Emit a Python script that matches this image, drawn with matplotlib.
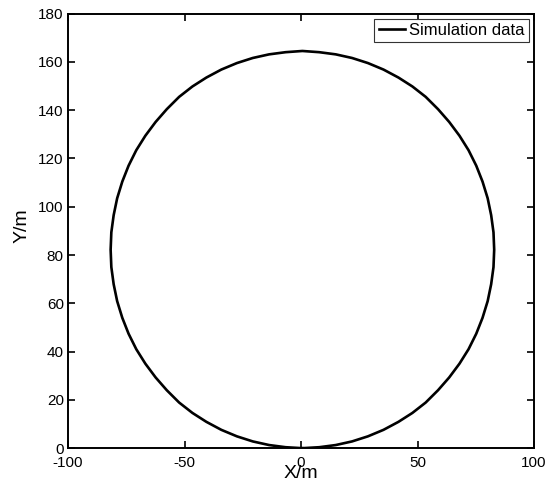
import matplotlib
matplotlib.use("Agg")
import matplotlib.pyplot as plt

# Trajectory points (X/m, Y/m), 5 degree steps round the turn
x_m = [0.6, 7.8, 14.9, 21.9, 28.7, 35.4, 41.8, 47.8, 53.5, 58.8, 63.6, 68.0,
       71.9, 75.2, 77.9, 80.1, 81.6, 82.6, 82.9, 82.6, 81.6, 80.1, 77.9, 75.2,
       71.9, 68.0, 63.6, 58.8, 53.5, 47.8, 41.8, 35.4, 28.7, 21.9, 14.9, 7.8,
       0.6, -6.6, -13.7, -20.7, -27.5, -34.2, -40.6, -46.6, -52.3, -57.6, -62.4, -66.8,
       -70.7, -74.0, -76.7, -78.9, -80.4, -81.4, -81.7, -81.4, -80.4, -78.9, -76.7, -74.0,
       -70.7, -66.8, -62.4, -57.6, -52.3, -46.6, -40.6, -34.2, -27.5, -20.7, -13.7, -6.6,
       0.6]
y_m = [0.0, 0.4, 1.3, 2.8, 4.9, 7.6, 10.9, 14.6, 18.9, 24.0, 29.3, 35.0,
       41.0, 47.4, 54.0, 60.9, 67.9, 75.0, 82.2, 89.4, 96.5, 103.5, 110.4, 117.0,
       123.4, 129.4, 135.1, 140.4, 145.5, 149.8, 153.5, 156.8, 159.5, 161.6, 163.1, 164.0,
       164.5, 164.0, 163.1, 161.6, 159.5, 156.8, 153.5, 149.8, 145.5, 140.4, 135.1, 129.4,
       123.4, 117.0, 110.4, 103.5, 96.5, 89.4, 82.2, 75.0, 67.9, 60.9, 54.0, 47.4,
       41.0, 35.0, 29.3, 24.0, 18.9, 14.6, 10.9, 7.6, 4.9, 2.8, 1.3, 0.4,
       0.0]

x_ticks = [-100, -50, 0, 50, 100]
y_ticks = [0, 20, 40, 60, 80, 100, 120, 140, 160, 180]
series_label = "Simulation data"

plt.rcParams['font.family'] = ['Liberation Sans', 'DejaVu Sans']
plt.rcParams['axes.unicode_minus'] = False

fig = plt.figure(figsize=(5.47, 4.84), dpi=100)
ax = fig.add_axes([0.1243, 0.074, 0.852, 0.898])

ax.plot(x_m, y_m, color='black', linewidth=1.9, label=series_label,
        solid_joinstyle='round')

ax.set_xlim(-100, 100)
ax.set_ylim(0, 180)
ax.set_xticks(x_ticks)
ax.set_yticks(y_ticks)
ax.tick_params(direction='in', top=True, right=True, length=5, width=1.2,
               labelsize=11, colors='black')
ax.tick_params(axis='x', pad=5.5)
ax.tick_params(axis='y', pad=3)
for s in ax.spines.values():
    s.set_linewidth(1.4)
    s.set_color('black')

ax.set_xlabel('X/m', fontsize=14)
ax.set_ylabel('Y/m', fontsize=14)
ax.xaxis.set_label_coords(0.5, -0.039)
ax.yaxis.set_label_coords(-0.08, 0.511)

leg = ax.legend(loc='upper right', fontsize=12, frameon=True, fancybox=False,
                borderaxespad=0.3, handlelength=1.6, handletextpad=0.25,
                borderpad=0.25, framealpha=1)
leg.get_frame().set_edgecolor('#333333')
leg.get_frame().set_linewidth(0.8)

fig.savefig('out.png', dpi=100)
